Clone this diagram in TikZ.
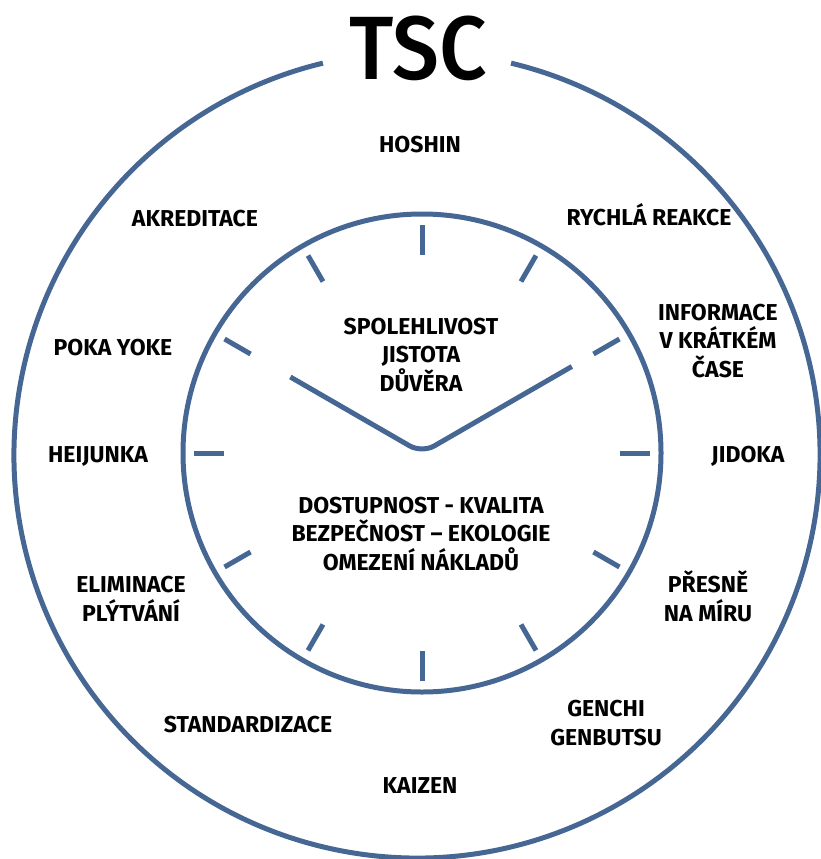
\documentclass[tikz,border=0pt]{standalone}
\usepackage{fontspec}
\setmainfont{Fira Sans}
\newfontfamily\titlefont{Fira Sans Medium}
\definecolor{clockblue}{RGB}{70,103,148}
\begin{document}
\begin{tikzpicture}[x=1pt,y=-1pt,
  ring/.style={draw=clockblue,line width=5pt},
  ticksty/.style={draw=clockblue,line width=5pt},
  handsty/.style={draw=clockblue,line width=5pt,rounded corners=14pt},
  lbl/.style={font=\bfseries\fontsize{23}{28.5}\selectfont,align=center,anchor=base,inner sep=0pt,text=black},
  titlesty/.style={font=\titlefont\fontsize{90}{90}\selectfont,anchor=base,inner sep=0pt,text=black,xscale=0.93}]
\useasboundingbox (0,0) rectangle (821,859);
\coordinate (oc) at (417,455);
\coordinate (ic) at (422,453);
% outer ring with gap for the title
\draw[ring] ([shift={(283.5:403)}]oc) arc[start angle=283.5, end angle=616.5, radius=403];
% inner ring
\draw[ring] (ic) circle[radius=239];
% hour ticks
\foreach \a in {0,30,...,330}
  \draw[ticksty] ([shift={(\a:198)}]ic) -- ([shift={(\a:228)}]ic);
% hands
\coordinate (hl) at ([shift={(210:152)}]ic);
\coordinate (hr) at ([shift={(330:173)}]ic);
\draw[handsty] (hl) -- (ic) -- (hr);
% title
\node[titlesty] (tsc) at (418,80) {TSC};
% labels (anchor = baseline of the last line)
\node[lbl] (hoshin) at (420,152) {HOSHIN};
\node[lbl] (rychla) at (649,225) {RYCHLÁ REAKCE};
\node[lbl] (akred) at (195,226) {AKREDITACE};
\node[lbl] (info) at (718,377) {INFORMACE\\V KRÁTKÉM\\ČASE};
\node[lbl] (jidoka) at (748,462) {JIDOKA};
\node[lbl] (poka) at (113,355) {POKA YOKE};
\node[lbl] (heij) at (98,462) {HEIJUNKA};
\node[lbl] (elim) at (131,621) {ELIMINACE\\PLÝTVÁNÍ};
\node[lbl] (stand) at (248,732) {STANDARDIZACE};
\node[lbl] (kaizen) at (420,793) {KAIZEN};
\node[lbl] (presne) at (708,621) {PŘESNĚ\\NA MÍRU};
\node[lbl] (genchi) at (606,745) {GENCHI\\GENBUTSU};
\node[lbl] (spol) at (421,391) {SPOLEHLIVOST\\JISTOTA\\DŮVĚRA};
\node[lbl] (dost) at (421,570) {DOSTUPNOST - KVALITA\\BEZPEČNOST – EKOLOGIE\\OMEZENÍ NÁKLADŮ};
\end{tikzpicture}
\end{document}
